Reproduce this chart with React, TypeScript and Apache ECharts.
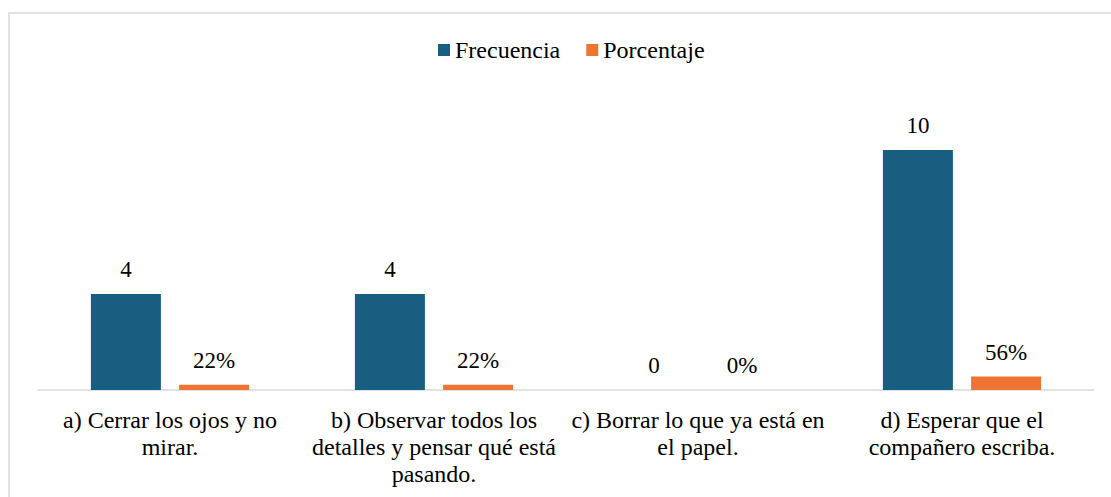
import React, { useEffect, useRef } from "react";
import * as echarts from "echarts";

const categories = [
  "a) Cerrar los ojos y no\nmirar.",
  "b) Observar todos los\ndetalles y pensar qué está\npasando.",
  "c) Borrar lo que ya está en\nel papel.",
  "d) Esperar que el\ncompañero escriba.",
];
const frecuencia = [4, 4, 0, 10];
const porcentaje = [0.22, 0.22, 0, 0.56];

const FONT = "Liberation Serif, Times New Roman, serif";

export default function App() {
  const ref = useRef<HTMLDivElement>(null);
  useEffect(() => {
    if (!ref.current) return;
    const chart = echarts.init(ref.current, undefined, { renderer: "svg" });
    chart.setOption({
      animation: false,
      backgroundColor: "#ffffff",
      textStyle: { fontFamily: FONT },
      graphic: [
        {
          type: "rect",
          shape: { x: 9, y: 13, width: 1110, height: 500 },
          style: { fill: "none", stroke: "#d9d9d9", lineWidth: 1.5 },
          silent: true,
        },
      ],
      legend: {
        top: 33,
        left: 433,
        itemWidth: 12,
        itemHeight: 12,
        itemGap: 26,
        icon: "rect",
        textStyle: { fontFamily: FONT, fontSize: 24, color: "#000" },
        data: ["Frecuencia", "Porcentaje"],
      },
      grid: { left: 38, right: 17, top: 102, bottom: 107, containLabel: false },
      xAxis: {
        type: "category",
        data: categories,
        axisLine: { lineStyle: { color: "#d9d9d9", width: 1.5 } },
        axisTick: { show: false },
        axisLabel: {
          interval: 0,
          fontFamily: FONT,
          fontSize: 24,
          color: "#000",
          lineHeight: 27,
          margin: 16,
        },
      },
      yAxis: {
        type: "value",
        min: 0,
        max: 12,
        show: false,
        splitLine: { show: false },
      },
      series: [
        {
          name: "Frecuencia",
          type: "bar",
          data: frecuencia,
          barWidth: 70,
          barGap: "26%",
          itemStyle: { color: "#175e80" },
          label: {
            show: true,
            position: "top",
            distance: 13,
            fontFamily: FONT,
            fontSize: 23,
            color: "#000",
          },
        },
        {
          name: "Porcentaje",
          type: "bar",
          data: porcentaje,
          barWidth: 70,
          itemStyle: { color: "#ed7432" },
          label: {
            show: true,
            position: "top",
            distance: 13,
            fontFamily: FONT,
            fontSize: 23,
            color: "#000",
            formatter: (p: any) => Math.round(p.value * 100) + "%",
          },
        },
      ],
    });
    return () => chart.dispose();
  }, []);
  return (
    <div
      ref={ref}
      style={{ position: "fixed", left: 0, top: 0, width: 1111, height: 497 }}
    />
  );
}
